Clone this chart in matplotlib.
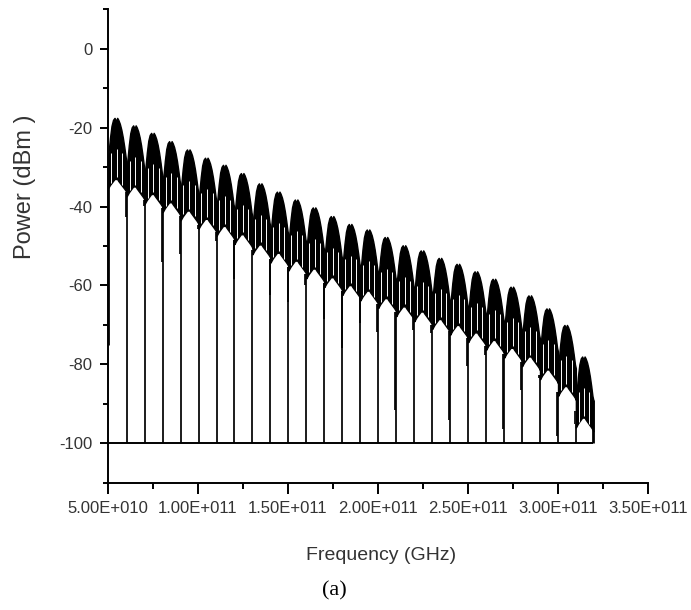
import numpy as np
import matplotlib
matplotlib.use("Agg")
import matplotlib.pyplot as plt
from matplotlib.ticker import MultipleLocator, FuncFormatter

# ---------------- data ----------------
start_ghz = 50.0          # spectrum start
end_ghz = 319.5           # spectrum end
left_edge_drop_dbm = -75.0
floor_dbm = -100.0

# frequencies (GHz) of the nulls that fall to the -100 dBm floor
null_ghz = [60.5, 70.5, 80.5, 90.4, 100.4, 110.4, 120.3, 130.3, 140.3, 150.3,
            160.2, 170.2, 180.2, 190.2, 200.1, 210.1, 220.1, 230.1, 240.0, 250.0,
            260.0, 270.0, 279.9, 289.9, 299.9, 309.8]

# peak power (dBm) of each lobe (first lobe starts at 50 GHz, last ends at 319.5 GHz)
lobe_peak_dbm = [-17.5, -19.4, -21.3, -23.4, -25.5, -27.6, -29.4, -31.5, -34.1,
                 -36.2, -38.2, -40.2, -42.4, -44.4, -45.8, -47.7, -49.8, -51.1,
                 -53.0, -54.5, -56.4, -58.3, -60.3, -62.5, -65.8, -70.0, -78.0]

# depth (dBm) of the secondary dip next to each null
dip_dbm = [-42.6, -39.8, -54.0, -52.0, -45.6, -48.6, -58.3, -51.1, -62.5, -64.1,
           -60.0, -68.5, -75.9, -69.6, -71.7, -91.5, -71.3, -72.1, -94.0, -80.5,
           -77.6, -96.5, -86.4, -83.5, -98.2, -91.8]

# shape of one lobe (relative position in lobe, offsets from the lobe peak in dB)
shape_u = [0.0, 0.06, 0.12, 0.20, 0.28, 0.36, 0.44, 0.50, 0.56, 0.64, 0.72, 0.80, 0.88, 0.95, 1.0]
shape_top = [-11.0, -8.0, -5.0, -2.0, -0.5, 0.0, -0.8, 0.0, -0.5, -1.5, -3.0, -5.0, -7.5, -10.0, -11.0]
shape_bot = [-18.0, -17.5, -17.0, -16.5, -16.0, -15.5, -15.5, -15.5, -16.0, -16.5, -17.0, -17.5, -18.0, -18.5, -19.0]

# thin light slits seen inside each lobe (relative position, top/bottom offsets from peak)
slit_u = [0.16, 0.47, 0.78]
slit_top = [-9.0, -8.0, -9.0]
slit_bot = [-16.5, -15.0, -17.0]

# ---------------- figure ----------------
plt.rcParams["font.family"] = ["Liberation Sans", "DejaVu Sans"]
plt.rcParams["axes.unicode_minus"] = False

fig = plt.figure(figsize=(6.91, 6.10), dpi=100)
ax = fig.add_axes([0.1559, 0.2087, 0.7823, 0.7759])

GHZ = 1e9
edges = [start_ghz] + null_ghz + [end_ghz]
su = np.array(shape_u)
st = np.array(shape_top)
sb = np.array(shape_bot)

for i, pk in enumerate(lobe_peak_dbm):
    f0, f1 = edges[i], edges[i + 1]
    xs = (f0 + su * (f1 - f0)) * GHZ
    ax.fill_between(xs, pk + sb, pk + st, color="black", linewidth=1.0,
                    edgecolor="black")
    for u, t, b in zip(slit_u, slit_top, slit_bot):
        ax.vlines((f0 + u * (f1 - f0)) * GHZ, pk + b, pk + t, color="white",
                  linewidth=0.7)

# nulls down to the floor
for k, f in enumerate(null_ghz):
    lo = min(lobe_peak_dbm[k] + shape_bot[-1], lobe_peak_dbm[k + 1] + shape_bot[0])
    ax.vlines(f * GHZ, floor_dbm, lo + 1, color="black", linewidth=1.25)
    ax.vlines((f - 0.45) * GHZ, dip_dbm[k], lo + 1, color="black", linewidth=1.25)

# left edge and right edge
ax.vlines(start_ghz * GHZ, left_edge_drop_dbm, lobe_peak_dbm[0] + shape_top[0],
          color="black", linewidth=2.0)
ax.vlines(end_ghz * GHZ, floor_dbm, lobe_peak_dbm[-1] + shape_top[-1],
          color="black", linewidth=2.0)
# floor line
ax.hlines(floor_dbm, start_ghz * GHZ, end_ghz * GHZ, color="black", linewidth=1.4)

ax.set_xlim(5e10, 3.5e11)
ax.set_ylim(-110, 10)

for s in ("top", "right"):
    ax.spines[s].set_visible(False)
for s in ("left", "bottom"):
    ax.spines[s].set_linewidth(1.4)

ax.xaxis.set_major_locator(MultipleLocator(5e10))
ax.xaxis.set_minor_locator(MultipleLocator(2.5e10))
ax.yaxis.set_major_locator(MultipleLocator(20))
ax.yaxis.set_minor_locator(MultipleLocator(10))


def sci(v, pos):
    if v == 0:
        return "0"
    e = int(np.floor(np.log10(abs(v))))
    m = v / 10 ** e
    return f"{m:.2f}E+{e:03d}"


ax.xaxis.set_major_formatter(FuncFormatter(sci))
ax.yaxis.set_major_formatter(FuncFormatter(lambda v, p: f"{v:.0f}"))

ax.tick_params(axis="x", which="major", direction="out", length=8, width=1.4,
               labelsize=12, labelcolor="#333333", pad=5)
ax.tick_params(axis="x", which="minor", direction="out", length=4, width=1.4)
ax.tick_params(axis="y", which="major", direction="out", length=6, width=1.4,
               labelsize=12, labelcolor="#333333", pad=5)
ax.tick_params(axis="y", which="minor", direction="out", length=3.5, width=1.4)

fig.text(25 / 691, 1 - 187 / 610, "Power (dBm )", rotation=90, ha="center",
         va="center", fontsize=17, color="#333333")
fig.text(381 / 691, 1 - 556 / 610, "Frequency (GHz)", ha="center", va="center",
         fontsize=14, color="#333333")
fig.text(334 / 691, 1 - 591 / 610, "(a)", ha="center", va="center",
         fontsize=16, color="black", family=["Liberation Serif", "DejaVu Serif"])

fig.savefig("out.png", dpi=100)
